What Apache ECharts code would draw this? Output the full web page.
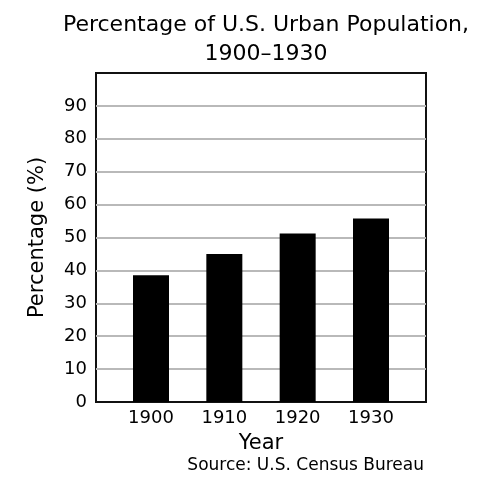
<!DOCTYPE html>
<html>
<head>
<meta charset="utf-8">
<script src="https://cdn.jsdelivr.net/npm/echarts@6/dist/echarts.min.js"></script>
<style>
	html,body{margin:0;padding:0;background:#fff}
	#main{width:497px;height:487px}
</style>
</head>
<body>
<div id="main"></div>
<script>
// data
var years = [1900, 1910, 1920, 1930];
var urbanPct = [38.5, 45, 51.2, 55.8];
var yearTicks = [1900, 1910, 1920, 1930];

var chart = echarts.init(document.getElementById('main'));
var font = 'DejaVu Sans, Verdana, sans-serif';

var option = {
	animation: false,
	backgroundColor: '#fff',
	title: {
		text: 'Percentage of U.S. Urban Population,\n1900\u20131930',
		left: 261,
		top: 6,
		textAlign: 'center',
		textStyle: {fontFamily: font, fontSize: 22, fontWeight: 'normal', color: '#000', lineHeight: 29}
	},
	grid: {
		left: 96, right: 71, top: 73, bottom: 85,
		show: true, borderColor: '#111', borderWidth: 2, backgroundColor: '#fff'
	},
	xAxis: {
		type: 'value',
		min: 1892.5,
		max: 1937.5,
		name: 'Year',
		nameLocation: 'middle',
		nameGap: 31,
		nameTextStyle: {fontFamily: font, fontSize: 21, color: '#000'},
		axisLine: {show: false},
		axisTick: {show: false},
		splitLine: {show: false},
		axisLabel: {
			customValues: yearTicks,
			fontFamily: font, fontSize: 18, color: '#000', margin: 7,
			formatter: function (v) { return String(v); }
		}
	},
	yAxis: {
		type: 'value',
		min: 0,
		max: 100,
		interval: 10,
		name: 'Percentage (%)',
		nameLocation: 'middle',
		nameGap: 48,
		nameTextStyle: {fontFamily: font, fontSize: 21, color: '#000'},
		axisLine: {show: false},
		axisTick: {show: false},
		axisLabel: {
			fontFamily: font, fontSize: 18, color: '#000', margin: 9,
			formatter: function (v) { return v >= 100 ? '' : String(v); }
		},
		splitLine: {
			showMinLine: false,
			showMaxLine: false,
			lineStyle: {color: '#b9b9b9', width: 2}
		}
	},
	graphic: [{
		type: 'text',
		right: 73,
		top: 457,
		style: {text: 'Source: U.S. Census Bureau', fill: '#000', font: '17px ' + font}
	}],
	series: [{
		type: 'bar',
		barWidth: 36,
		itemStyle: {color: '#000'},
		z: 3,
		data: years.map(function (y, i) { return [y, urbanPct[i]]; })
	}]
};
chart.setOption(option);
</script>
</body>
</html>
